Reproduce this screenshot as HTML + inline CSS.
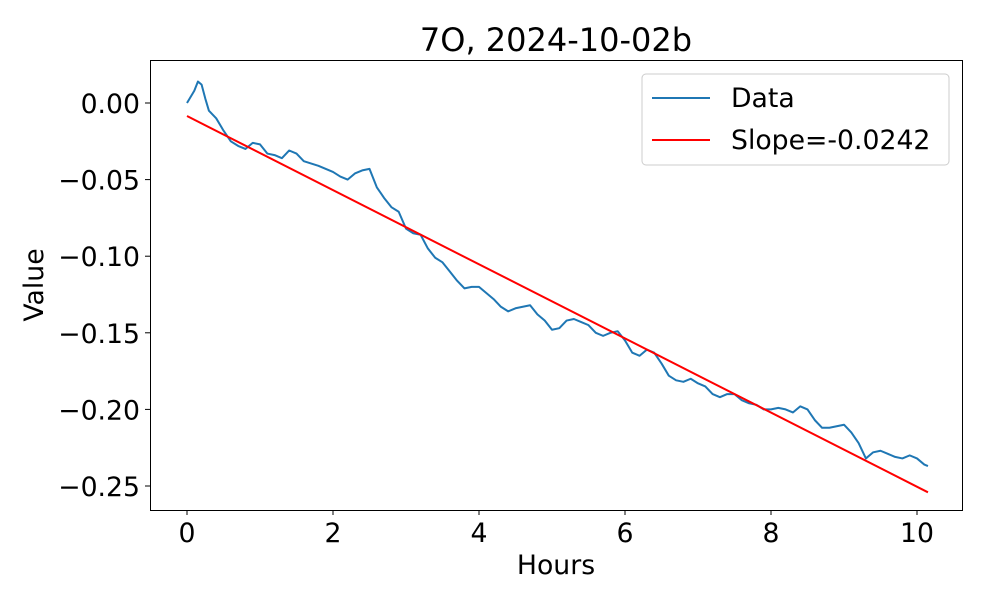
<!DOCTYPE html>
<html><head><meta charset="utf-8"><style>
body{margin:0;background:#fff;}
svg text{font-family:"DejaVu Sans","Liberation Sans",sans-serif;fill:#000;}
</style></head><body>
<svg id="chart" width="1000" height="600" xmlns="http://www.w3.org/2000/svg">
<rect width="1000" height="600" fill="#fff"/>
<text x="556" y="51" font-size="32" text-anchor="middle">7O, 2024-10-02b</text>
<g id="plot"></g>
<rect x="150.5" y="60.5" width="812" height="450" fill="none" stroke="#000" stroke-width="1"/>
<text x="556" y="574" font-size="26.7" text-anchor="middle">Hours</text>
<text x="43" y="285" font-size="26.7" text-anchor="middle" transform="rotate(-90 43 285)">Value</text>
<g>
<rect x="642" y="74" width="307" height="91" rx="4" fill="#fff" stroke="#ccc"/>
<line x1="652" y1="98" x2="710" y2="98" stroke="#1f77b4" stroke-width="2"/>
<text x="731" y="107" font-size="26.7">Data</text>
<line x1="652" y1="140" x2="710" y2="140" stroke="#ff0000" stroke-width="2"/>
<text x="731" y="149" font-size="26.7">Slope=-0.0242</text>
</g>
</svg>
<script>
const hours=[0,0.1,0.15,0.2,0.25,0.3,0.4,0.5,0.6,0.7,0.8,0.9,1.0,1.1,1.2,1.3,1.4,1.5,1.6,1.8,2.0,2.1,2.2,2.3,2.4,2.5,2.6,2.7,2.8,2.9,3.0,3.1,3.2,3.3,3.4,3.5,3.6,3.7,3.8,3.9,4.0,4.1,4.2,4.3,4.4,4.5,4.6,4.7,4.8,4.9,5.0,5.1,5.2,5.3,5.4,5.5,5.6,5.7,5.8,5.9,6.0,6.1,6.2,6.3,6.4,6.5,6.6,6.7,6.8,6.9,7.0,7.1,7.2,7.3,7.4,7.5,7.6,7.7,7.8,7.9,8.0,8.1,8.2,8.3,8.4,8.5,8.6,8.7,8.8,8.9,9.0,9.1,9.2,9.3,9.4,9.5,9.6,9.7,9.8,9.9,10.0,10.1,10.15];
const values=[0,0.008,0.014,0.012,0.003,-0.005,-0.01,-0.018,-0.025,-0.028,-0.03,-0.026,-0.027,-0.033,-0.034,-0.036,-0.031,-0.033,-0.038,-0.041,-0.045,-0.048,-0.05,-0.046,-0.044,-0.043,-0.055,-0.062,-0.068,-0.071,-0.082,-0.085,-0.086,-0.095,-0.101,-0.104,-0.11,-0.116,-0.121,-0.12,-0.12,-0.124,-0.128,-0.133,-0.136,-0.134,-0.133,-0.132,-0.138,-0.142,-0.148,-0.147,-0.142,-0.141,-0.143,-0.145,-0.15,-0.152,-0.15,-0.149,-0.155,-0.163,-0.165,-0.161,-0.163,-0.17,-0.178,-0.181,-0.182,-0.18,-0.183,-0.185,-0.19,-0.192,-0.19,-0.19,-0.194,-0.196,-0.197,-0.2,-0.2,-0.199,-0.2,-0.202,-0.198,-0.2,-0.207,-0.212,-0.212,-0.211,-0.21,-0.215,-0.222,-0.232,-0.228,-0.227,-0.229,-0.231,-0.232,-0.23,-0.232,-0.236,-0.237];
const fitIntercept=-0.0085;
const fitSlope=-0.0242;
const xTicks=[0,2,4,6,8,10];
const yTicks=[0,-0.05,-0.10,-0.15,-0.20,-0.25];
const yTickLabels=["0.00","\u22120.05","\u22120.10","\u22120.15","\u22120.20","\u22120.25"];
const X=h=>187+h*73;
const Y=v=>103-v*(383/0.25);
const NS="http://www.w3.org/2000/svg";
const g=document.getElementById('plot');
function mk(t,a){const e=document.createElementNS(NS,t);for(const k in a)e.setAttribute(k,a[k]);g.appendChild(e);return e;}
xTicks.forEach(t=>{
 const l=mk('line',{x1:X(t),x2:X(t),y1:510,y2:515,stroke:'#000'});
 
 
 const tx=mk('text',{x:X(t),y:542,'font-size':26.7,'text-anchor':'middle'});tx.textContent=t;
 
 
});
yTicks.forEach((t,i)=>{
 const l=mk('line',{x1:145,x2:150,y1:Y(t),y2:Y(t),stroke:'#000'});
 
 
 const tx=mk('text',{x:140,y:Y(t)+10,'font-size':26.7,'text-anchor':'end'});tx.textContent=yTickLabels[i];
 
 
});
const p=mk('polyline',{points:hours.map((h,i)=>X(h)+','+Y(values[i])).join(' '),fill:'none',stroke:'#1f77b4','stroke-width':2,'stroke-linejoin':'round'});


const h0=hours[0],h1=hours[hours.length-1];
const f=mk('line',{x1:X(h0),y1:Y(fitIntercept+fitSlope*h0),x2:X(h1),y2:Y(fitIntercept+fitSlope*h1),stroke:'#ff0000','stroke-width':2});


</script>
</body></html>
